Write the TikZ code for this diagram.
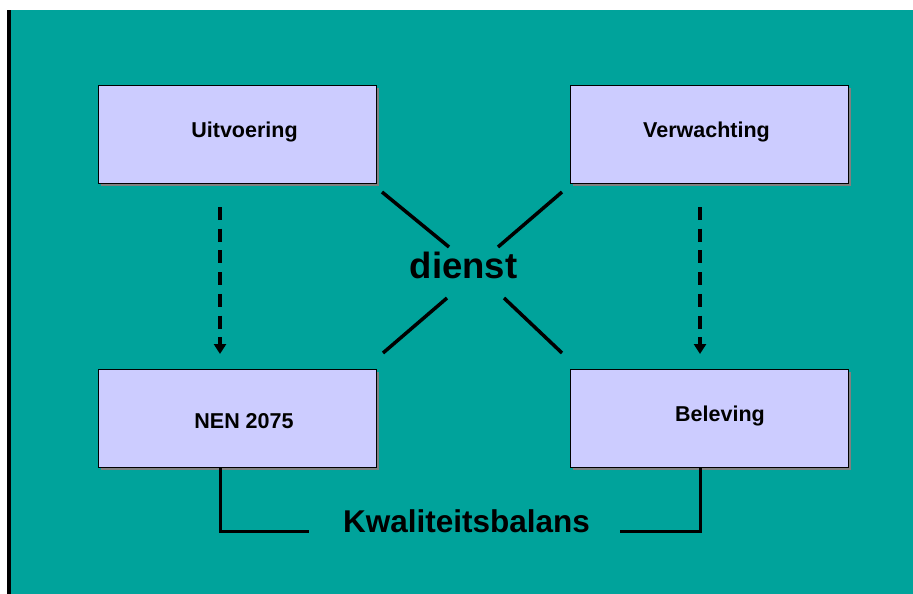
\documentclass[tikz,border=0pt]{standalone}
\usepackage{fontspec}
\setmainfont{Liberation Sans}
\usetikzlibrary{arrows.meta}
\definecolor{teal1}{RGB}{0,163,155}
\definecolor{boxfill}{RGB}{204,204,255}
\definecolor{shadowgray}{RGB}{128,128,128}
\tikzset{
  bx/.style={draw=black, line width=1.2pt, fill=boxfill, minimum width=278pt, minimum height=98pt, inner sep=0pt, anchor=north west},
  bxshadow/.style={fill=shadowgray, draw=none, minimum width=278pt, minimum height=98pt, inner sep=0pt, anchor=north west},
  lbl/.style={font=\bfseries\fontsize{21.5}{24}\selectfont, anchor=base, inner sep=0pt},
  xline/.style={line width=3.5pt, black},
  darr/.style={line width=3.8pt, black, dash pattern=on 13pt off 8.7pt, -{Triangle[length=10pt,width=12pt]}},
  brk/.style={line width=3pt, black}
}
\begin{document}
\begin{tikzpicture}[x=1pt,y=-1pt]
\useasboundingbox (0,0) rectangle (913,594);
\fill[white] (0,0) rectangle (913,594);
\fill[teal1] (9,10) rectangle (913,594);
\fill[black] (7,10) rectangle (10.5,594);
% shadows
\node[bxshadow] at (101,88) {};
\node[bxshadow] at (573,88) {};
\node[bxshadow] at (101,372) {};
\node[bxshadow] at (573,372) {};
% boxes
\node[bx] (ui) at (98,85) {};
\node[bx] (ve) at (570,85) {};
\node[bx] (ne) at (98,369) {};
\node[bx] (be) at (570,369) {};
\node[lbl] (tui) at (244.5,137) {Uitvoering};
\node[lbl] (tve) at (706.5,137) {Verwachting};
\node[lbl] (tne) at (244,428) {NEN 2075};
\node[lbl] (tbe) at (720,421) {Beleving};
% center
\node[font=\bfseries\fontsize{36.5}{40}\selectfont, anchor=base, inner sep=0pt] (di) at (463.5,278) {dienst};
\coordinate (a1) at (382,192); \coordinate (a2) at (449,247);
\coordinate (b1) at (562,192); \coordinate (b2) at (498,247);
\coordinate (c1) at (447,298); \coordinate (c2) at (383,353);
\coordinate (d1) at (504,298); \coordinate (d2) at (562,353);
\draw[xline] (a1) -- (a2);
\draw[xline] (b1) -- (b2);
\draw[xline] (c1) -- (c2);
\draw[xline] (d1) -- (d2);
% dashed arrows
\coordinate (la) at (220,207); \coordinate (lb) at (220,354);
\coordinate (ra) at (700,207); \coordinate (rb) at (700,354);
\draw[darr] (la) -- (lb);
\draw[darr] (ra) -- (rb);
% bracket
\node[font=\bfseries\fontsize{31.5}{36}\selectfont, anchor=base, inner sep=0pt] (kw) at (466.5,532) {Kwaliteitsbalans};
\coordinate (k1) at (309,531); \coordinate (k2) at (620,531);
\coordinate (kl) at (220,531); \coordinate (kr) at (700,531);
\draw[brk] (kl |- ne.south) -- (kl) -- (k1);
\draw[brk] (k2) -- (kr) -- (kr |- be.south);
\end{tikzpicture}
\end{document}
